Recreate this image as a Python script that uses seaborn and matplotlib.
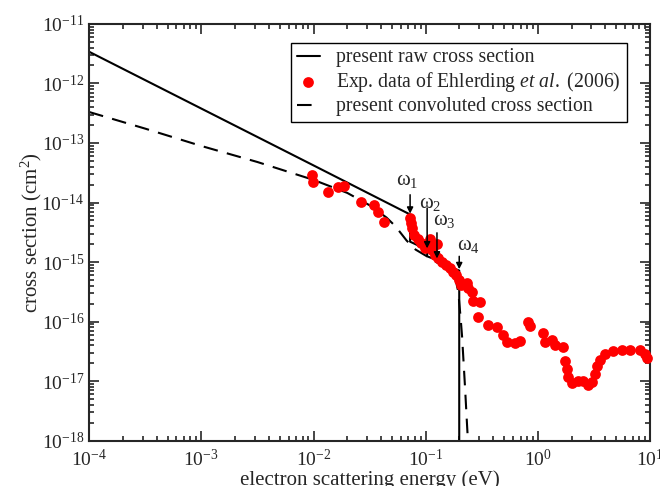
import numpy as np
import pandas as pd
import seaborn as sns
import matplotlib.pyplot as plt
from matplotlib.ticker import LogLocator, NullFormatter

# Data
# present raw cross section (power law + steps at the vibrational thresholds)
raw_e = [1e-4, 1e-2, 0.0726, 0.0726, 0.103, 0.103, 0.126, 0.126, 0.199, 0.199]
raw_cs = [3.4e-12, 4.2e-14, 6.3e-15, 2.2e-15, 1.62e-15, 1.25e-15, 1.08e-15, 1.0e-15, 7.2e-16, 1e-20]

# present convoluted cross section
conv_e = [1e-4, 3.16e-4, 1e-3, 3.16e-3, 1e-2, 0.02, 0.0316, 0.0447, 0.0537, 0.0676,
          0.0813, 0.115, 0.148, 0.182, 0.195, 0.204, 0.211, 0.224, 0.234, 0.243]
conv_cs = [3.31e-13, 1.74e-13, 8.9e-14, 4.79e-14, 2.4e-14, 1.45e-14, 9.0e-15, 5.6e-15, 4.0e-15, 2.3e-15,
           1.62e-15, 1.1e-15, 8.1e-16, 5.75e-16, 3.2e-16, 1.26e-16, 5.6e-17, 8.1e-18, 1.74e-18, 5e-19]

# Exp. data of Ehlerding et al. (2006)
exp_e = [0.0097, 0.0099, 0.0135, 0.0166, 0.0188, 0.0265, 0.0347, 0.0377, 0.0425,
         0.0726, 0.0741, 0.0757, 0.0788, 0.0855, 0.091, 0.0988, 0.105, 0.11, 0.114, 0.121,
         0.125, 0.129, 0.140, 0.152, 0.165, 0.175, 0.187, 0.199, 0.207,
         0.234, 0.239, 0.259, 0.264, 0.305, 0.293, 0.360, 0.433, 0.490, 0.531, 0.626,
         0.693, 0.818, 0.852, 1.11, 1.16, 1.34, 1.42, 1.68, 1.75, 1.82, 1.86, 2.02,
         2.28, 2.53, 2.80, 3.04, 3.24, 3.37, 3.58, 3.97, 4.68, 5.63, 6.64, 8.15, 9.02, 9.4]
exp_cs = [2.9e-14, 2.2e-14, 1.5e-14, 1.85e-14, 1.9e-14, 1.03e-14, 9.2e-15, 7.0e-15, 4.8e-15,
          5.6e-15, 4.6e-15, 3.8e-15, 2.8e-15, 2.4e-15, 2.1e-15, 1.75e-15, 2.1e-15, 2.4e-15, 1.6e-15, 1.33e-15,
          2.0e-15, 1.19e-15, 1.02e-15, 9.0e-16, 8.0e-16, 6.9e-16, 6.15e-16, 5.1e-16, 4.2e-16,
          4.5e-16, 3.7e-16, 3.1e-16, 2.2e-16, 2.1e-16, 1.2e-16, 8.9e-17, 8.2e-17, 6.0e-17, 4.6e-17, 4.4e-17,
          4.8e-17, 1.0e-16, 8.5e-17, 6.5e-17, 4.6e-17, 5.0e-17, 4.1e-17, 3.7e-17, 2.2e-17, 1.6e-17, 1.2e-17, 9.5e-18,
          1.0e-17, 1.0e-17, 8.8e-18, 9.8e-18, 1.3e-17, 1.8e-17, 2.3e-17, 2.9e-17, 3.2e-17, 3.3e-17, 3.3e-17, 3.3e-17, 2.9e-17, 2.5e-17]

# threshold arrows
omega_labels = ['ω$_1$', 'ω$_2$', 'ω$_3$', 'ω$_4$']
omega_e = [0.0726, 0.103, 0.126, 0.199]
omega_top = [1.35e-14, 8.1e-15, 3.1e-15, 1.25e-15]
omega_tip = [6.5e-15, 1.7e-15, 1.15e-15, 7.6e-16]
omega_text_e = [0.0683, 0.109, 0.146, 0.239]
omega_text_cs = [2.3e-14, 9.5e-15, 4.95e-15, 1.88e-15]

sns.set_style("ticks")
plt.rcParams['font.family'] = ['Liberation Serif', 'DejaVu Serif']
plt.rcParams['mathtext.fontset'] = 'custom'
plt.rcParams['mathtext.rm'] = 'Liberation Serif'
plt.rcParams['mathtext.it'] = 'Liberation Serif:italic'

fig = plt.figure(figsize=(6.6, 4.86), dpi=100)
ax = fig.add_axes([0.135, 0.093, 0.85, 0.858])

sns.lineplot(x=raw_e, y=raw_cs, sort=False, estimator=None, color='black', lw=1.5,
             label='present raw cross section', ax=ax)
sns.scatterplot(x=exp_e, y=exp_cs, color='red', s=60, linewidth=0, zorder=3,
                label='Exp. data of Ehlerding $\\mathit{et\\ al.}$ (2006)', ax=ax)
sns.lineplot(x=conv_e, y=conv_cs, sort=False, estimator=None, color='black', lw=1.5,
             dashes=False, label='present convoluted cross section', ax=ax)
ax.lines[-1].set_dashes([7, 4.5])
ax.collections[0].set_clip_on(False)

for lab, e, top, tip, tx, ty in zip(omega_labels, omega_e, omega_top, omega_tip, omega_text_e, omega_text_cs):
    ax.annotate('', xy=(e, tip), xytext=(e, top),
                arrowprops=dict(arrowstyle='-|>', color='black', lw=1.1, mutation_scale=9,
                                shrinkA=0, shrinkB=0))
    ax.text(tx, ty, lab, fontsize=15, ha='center', va='center')

ax.set_xscale('log')
ax.set_yscale('log')
ax.set_xlim(1e-4, 1e1)
ax.set_ylim(1e-18, 1e-11)
ax.xaxis.set_major_locator(LogLocator(base=10, numticks=20))
ax.yaxis.set_major_locator(LogLocator(base=10, numticks=20))
ax.xaxis.set_minor_locator(LogLocator(base=10, subs=np.arange(2, 10), numticks=20))
ax.yaxis.set_minor_locator(LogLocator(base=10, subs=np.arange(2, 10), numticks=20))
ax.xaxis.set_minor_formatter(NullFormatter())
ax.yaxis.set_minor_formatter(NullFormatter())
ax.tick_params(which='both', direction='in', top=True, right=True, width=1.2, labelsize=14)
ax.tick_params(which='major', length=7)
ax.tick_params(which='minor', length=3.5)
ax.tick_params(axis='x', pad=6)
for sp in ax.spines.values():
    sp.set_linewidth(1.5)

ax.set_xlabel('electron scattering energy (eV)', fontsize=15, labelpad=0)
ax.set_ylabel('cross section (cm$^2$)', fontsize=15)
ax.yaxis.set_label_coords(-0.081, 0.5)

h, l = ax.get_legend_handles_labels()
leg = ax.legend(h, l, loc='upper right', bbox_to_anchor=(0.958, 0.955), fontsize=14.2,
                frameon=True, fancybox=False, framealpha=1, edgecolor='black',
                handlelength=1.2, handletextpad=0.8, labelspacing=0.15, borderpad=0.3,
                borderaxespad=0)
leg.get_frame().set_linewidth(1.0)

fig.savefig('out.png', dpi=100)
